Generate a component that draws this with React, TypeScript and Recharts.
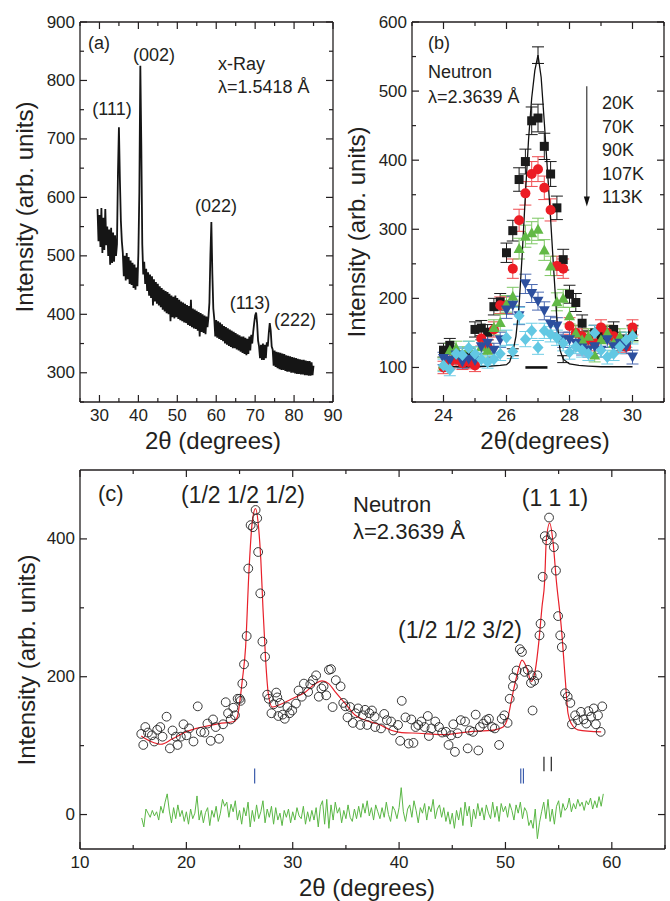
import React from "react";
import {
  ComposedChart,
  ErrorBar,
  Line,
  ReferenceDot,
  ReferenceLine,
  Scatter,
  XAxis,
  YAxis,
} from "recharts";

// ---------- (a) x-ray pattern: 29.5..85 deg, 0.25 deg steps ----------
const xrayStart = 29.5;
const xrayStep = 0.25;
const xrayCounts = [
  580, 525, 570, 515, 582, 505, 565, 510, 580, 518,
  550, 500, 545, 485, 548, 488, 540, 490, 535, 500,
  520, 640, 720, 630, 560, 525, 505, 465, 500, 458,
  505, 460, 498, 452, 492, 450, 488, 445, 485, 442,
  480, 448, 505, 610, 825, 690, 520, 468, 490, 452,
  478, 440, 472, 432, 468, 428, 465, 415, 460, 422,
  455, 418, 452, 415, 448, 412, 445, 408, 442, 405,
  440, 402, 438, 400, 435, 388, 432, 395, 430, 393,
  432, 395, 428, 392, 425, 390, 422, 388, 420, 386,
  418, 385, 416, 382, 414, 380, 425, 378, 410, 376,
  408, 375, 406, 372, 404, 362, 402, 370, 400, 368,
  398, 366, 396, 378, 395, 420, 500, 558, 470, 410,
  392, 362, 390, 360, 388, 358, 386, 356, 383, 354,
  380, 350, 378, 348, 376, 346, 374, 344, 372, 342,
  370, 342, 368, 340, 366, 338, 364, 336, 362, 334,
  362, 332, 360, 330, 358, 332, 362, 338, 365, 350,
  370, 385, 398, 403, 385, 355, 345, 325, 348, 322,
  350, 322, 348, 325, 352, 345, 368, 385, 372, 345,
  340, 312, 338, 310, 336, 308, 335, 306, 334, 305,
  333, 305, 332, 303, 330, 302, 329, 302, 328, 300,
  327, 300, 326, 299, 325, 298, 324, 298, 323, 297,
  322, 297, 322, 296, 321, 296, 320, 295, 320, 295,
  318, 296, 312,
];
const aTicksX = [25, 30, 35, 40, 45, 50, 55, 60, 65, 70, 75, 80, 85, 90];
const aMajorX = [30, 40, 50, 60, 70, 80, 90];
const aTicksY = [250, 300, 350, 400, 450, 500, 550, 600, 650, 700, 750, 800, 850, 900];
const aMajorY = [300, 400, 500, 600, 700, 800, 900];

// ---------- (b) neutron (1/2 1/2 1/2) peak vs temperature ----------
const nAngles = [
  24.0, 24.2, 24.4, 24.6, 24.8, 25.0, 25.2, 25.4, 25.6, 25.8, 26.0,
  26.2, 26.4, 26.6, 26.8, 27.0, 27.2, 27.4, 27.6, 27.8, 28.0,
  28.2, 28.4, 28.6, 28.8, 29.0, 29.2, 29.4, 29.6, 29.8, 30.0,
];
const counts20K = [125, 132, 114, 110, 118, 155, 157, 151, 188, 195, 266, 298, 372, 398, 457, 461, 420, 380, 331, 256, 206, 194, 164, 142, 150, 146, 148, 155, 140, 136, 150];
const err20K = [10, 10, 9, 9, 10, 11, 11, 11, 12, 12, 14, 15, 17, 18, 20, 20, 19, 18, 17, 15, 13, 13, 12, 11, 11, 11, 11, 11, 11, 11, 11];
const counts70K = [100, 108, 112, 106, 108, 103, 142, 130, 155, 190, 190, 243, 313, 352, 380, 387, 360, 328, 247, 243, 160, 150, 145, 140, 135, 158, 150, 145, 132, 130, 158];
const err70K = [9, 10, 10, 9, 10, 9, 11, 10, 11, 12, 12, 14, 16, 17, 18, 18, 17, 16, 14, 14, 12, 11, 11, 11, 11, 11, 11, 11, 10, 10, 11];
const counts90K = [105, 125, 128, 120, 128, 120, 130, 125, 158, 165, 192, 203, 272, 290, 295, 300, 270, 247, 195, 200, 175, 150, 140, 145, 118, 140, 150, 135, 145, 140, 148];
const err90K = [9, 10, 10, 10, 10, 10, 10, 10, 11, 12, 12, 13, 15, 16, 16, 16, 15, 14, 13, 13, 12, 11, 11, 11, 10, 11, 11, 11, 11, 11, 11];
const counts107K = [113, 110, 118, 108, 112, 110, 130, 135, 125, 140, 183, 190, 175, 221, 207, 196, 182, 162, 160, 140, 140, 135, 128, 125, 130, 125, 140, 130, 135, 130, 115];
const err107K = [9, 9, 10, 9, 10, 9, 10, 11, 10, 11, 12, 13, 13, 14, 13, 13, 13, 12, 12, 11, 11, 11, 10, 10, 10, 10, 11, 10, 11, 10, 10];
const counts113K = [103, 97, 120, 118, 128, 120, 112, 108, 112, 120, 143, 123, 175, 141, 153, 129, 153, 148, 143, 135, 122, 130, 125, 120, 150, 125, 115, 120, 130, 140, 145];
const err113K = [9, 9, 10, 10, 10, 10, 9, 9, 9, 10, 11, 10, 12, 11, 11, 10, 11, 11, 11, 11, 10, 10, 10, 10, 11, 10, 10, 10, 10, 11, 11];
const temps = ["20K", "70K", "90K", "107K", "113K"];

const fitAngles = [24.0, 24.5, 25.0, 25.5, 25.8, 26.0, 26.1, 26.2, 26.3, 26.4, 26.5, 26.6, 26.7, 26.8, 26.9, 27.0, 27.1, 27.2, 27.3, 27.4, 27.5, 27.6, 27.7, 27.8, 28.0, 28.3, 28.6, 29.0, 29.5, 30.0];
const fitCounts = [101, 101, 101, 102, 103, 104, 108, 122, 145, 190, 265, 350, 430, 490, 530, 552, 520, 455, 385, 315, 240, 170, 125, 112, 105, 103, 102, 101, 101, 101];
const fitErrAngles = [26.2, 27.0, 27.8];
const fitErrCounts = [122, 552, 112];
const fitErrs = [5, 12, 5];

const bTicksX = [23, 24, 25, 26, 27, 28, 29, 30, 31];
const bMajorX = [24, 26, 28, 30];
const bTicksY = [50, 100, 150, 200, 250, 300, 350, 400, 450, 500, 550, 600];
const bMajorY = [100, 200, 300, 400, 500, 600];

// ---------- (c) full neutron pattern ----------
const cAngles = [
  15.76, 15.95, 16.14, 16.39, 16.76, 16.98, 17.26, 17.55, 17.76, 18.14,
  18.45, 18.7, 19.01, 19.17, 19.48, 19.73, 20.01, 20.26, 20.67, 21.07,
  21.36, 21.7, 21.98, 22.29, 22.51, 22.76, 23.07, 23.45, 23.7, 23.92,
  24.17, 24.42, 24.57, 24.82, 25.01, 25.1, 25.26, 25.42, 25.67, 25.82,
  26.04, 26.26, 26.51, 26.66, 26.75, 26.95, 27.15, 27.4, 27.6, 27.75,
  28.0, 28.2, 28.45, 28.55, 28.65, 28.8, 29.05, 29.25, 29.5, 29.7,
  29.95, 30.3, 30.55, 30.85, 31.05, 31.45, 31.65, 31.9, 32.2, 32.45,
  32.7, 32.9, 33.15, 33.4, 33.6, 33.75, 34.05, 34.5, 34.75, 34.95,
  35.15, 35.4, 35.65, 35.9, 36.15, 36.35, 36.6, 36.8, 37.0, 37.2,
  37.45, 37.7, 37.75, 38.3, 38.6, 38.85, 39.25, 39.45, 39.9, 40.1,
  40.25, 40.6, 40.9, 41.15, 41.35, 41.55, 41.8, 42.1, 42.4, 42.7,
  42.8, 43.05, 43.4, 43.75, 44.05, 44.4, 44.65, 44.9, 45.1, 45.25,
  45.5, 45.8, 46.2, 46.45, 46.65, 46.95, 47.2, 47.45, 47.6, 47.9,
  48.2, 48.45, 48.75, 49.0, 49.4, 49.65, 49.9, 50.2, 50.4, 50.7,
  50.75, 51.05, 51.35, 51.55, 51.8, 52.1, 52.4, 52.45, 52.55, 52.7,
  53.0, 53.2, 53.3, 53.5, 53.7, 53.9, 54.1, 54.35, 54.55, 54.75,
  54.95, 55.15, 55.3, 55.6, 55.85, 56.1, 56.25, 56.55, 56.8, 57.1,
  57.35, 57.6, 57.8, 58.05, 58.3, 58.5, 58.7, 58.95, 59.1,
];
const cCounts = [
  117, 101, 127, 119, 115, 106, 123, 127, 113, 142,
  96, 122, 113, 101, 113, 131, 115, 125, 106, 157,
  120, 119, 132, 107, 138, 127, 110, 131, 163, 147,
  138, 155, 144, 168, 168, 165, 190, 218, 259, 357,
  420, 417, 442, 430, 381, 321, 251, 229, 174, 168,
  147, 160, 177, 170, 143, 162, 145, 139, 156, 147,
  151, 161, 180, 171, 190, 178, 189, 195, 202, 171,
  183, 186, 173, 210, 211, 156, 195, 186, 162, 157,
  141, 156, 133, 147, 154, 130, 144, 152, 130, 147,
  151, 142, 127, 125, 146, 137, 135, 122, 130, 107,
  165, 141, 103, 138, 104, 127, 130, 135, 127, 143,
  114, 125, 135, 127, 119, 120, 101, 115, 131, 91,
  118, 137, 135, 96, 122, 120, 145, 93, 127, 132,
  137, 139, 127, 125, 101, 139, 144, 133, 168, 186,
  199, 209, 240, 236, 207, 210, 191, 202, 151, 194,
  202, 260, 277, 345, 404, 398, 431, 406, 388, 354,
  288, 260, 243, 176, 171, 162, 131, 144, 137, 149,
  138, 132, 150, 142, 154, 131, 144, 120, 157,
];
const calcAngles = [
  15.76, 16.67, 17.6, 18.7, 19.95, 21.5, 23.07, 24.48, 24.8, 25.0,
  25.26, 25.57, 25.89, 26.2, 26.5, 26.8, 27.0, 27.2, 27.45, 27.7,
  28.07, 28.7, 29.95, 31.2, 32.13, 32.76, 33.38, 34.0, 34.95, 35.88,
  36.82, 38.07, 39.32, 40.25, 41.82, 44.0, 46.5, 49.0, 49.78, 50.25,
  50.63, 51.13, 51.56, 51.97, 52.44, 52.81, 53.12, 53.44, 53.69, 53.84,
  54.16, 54.47, 54.78, 55.25, 55.63, 55.88, 56.19, 56.81, 59.0,
];
const calcCounts = [
  114, 106, 102, 110, 120, 127, 132, 135, 142, 161,
  195, 243, 355, 425, 444, 415, 370, 300, 225, 176,
  156, 159, 168, 178, 190, 194, 190, 178, 161, 144,
  137, 131, 122, 119, 118, 116, 120, 123, 127, 142,
  171, 205, 224, 214, 193, 210, 248, 302, 340, 398,
  423, 396, 340, 272, 195, 147, 132, 123, 120,
];
// obs - calc, 15.8..59.2 deg in 0.2 deg steps
const diffStart = 15.8;
const diffStep = 0.2;
const diffCounts = [
  -5, -18, 8, 2, -4, 6, -2, 4, -8, 12,
  2, 18, 30, 5, -12, 10, -6, 14, -3, 6,
  -10, 4, -14, 8, -6, 2, 27, -8, 6, -12,
  3, 10, -16, 6, -4, 12, -10, 2, 22, 12,
  18, -4, 15, 4, 20, -8, 6, -14, 10, -2,
  18, -18, 6, -10, 14, -6, 4, 20, -12, 8,
  -4, 12, -14, 10, -8, 2, -16, 6, -4, 8,
  -12, 4, -8, 10, -2, -6, 12, -14, 4, -10,
  6, -8, 10, -18, 12, 20, -14, 22, -20, 14,
  -8, 18, 2, 10, -12, 6, -6, 14, -4, -10,
  8, -6, 12, -4, 16, 2, 20, -2, 10, -8,
  14, 4, -6, 10, -4, 18, 0, -10, 12, 6,
  -6, 10, 39, 4, -10, 8, 14, -4, 20, 6,
  -12, 10, 2, 16, -8, 12, 4, 22, -6, 8,
  14, -4, 10, -10, 4, -14, 2, -20, 6, -8,
  10, -16, 18, -2, 12, -18, 8, -6, 16, -2,
  10, -8, 14, 2, -6, 18, -4, 12, -10, 16,
  4, 12, -4, 16, 6, -8, 14, 2, 18, -6,
  10, 4, -16, -8, -20, 8, -35, -12, 4, 18,
  -6, 22, -10, 8, -14, 12, 20, -4, 16, 6,
  10, 24, 4, 16, 8, 22, 12, 18, 6, 20,
  14, 24, 8, 20, 10, 26, 12, 30,
];
const magneticTicks = [26.42, 51.44, 51.69];
const nuclearTicks = [53.62, 54.31];

const cTicksX = [10, 15, 20, 25, 30, 35, 40, 45, 50, 55, 60, 65];
const cMajorX = [10, 20, 30, 40, 50, 60];
const cTicksY = [0, 100, 200, 300, 400];
const cMajorY = [0, 200, 400];

// ---------- shared bits ----------
const FONT = '"Liberation Sans", Arial, Helvetica, sans-serif';
const INK = "#231f20";
const TICK_GAP = 10;
const frame = { stroke: INK, strokeWidth: 1.3 };

const xray = xrayCounts.map((y, i) => ({ x: xrayStart + i * xrayStep, y }));
const series = (ys: number[], es: number[]) => nAngles.map((x, i) => ({ x, y: ys[i], e: es[i] }));
const fitB = fitAngles.map((x, i) => ({ x, y: fitCounts[i] }));
const fitBErr = fitErrAngles.map((x, i) => ({ x, y: fitErrCounts[i], e: fitErrs[i] }));
const obsC = cAngles.map((x, i) => ({ x, y: cCounts[i] }));
const calcC = calcAngles.map((x, i) => ({ x, y: calcCounts[i] }));
const diffC = diffCounts.map((y, i) => ({ x: diffStart + i * diffStep, y }));

type Side = "bottom" | "top" | "left" | "right";

function makeTick(side: Side, majors: number[]) {
  return (props: any) => {
    const { x, y, payload } = props;
    const v: number = payload.value;
    const major = majors.indexOf(v) >= 0;
    const len = major ? 7 : 4;
    const txt = { fontSize: 17, fontFamily: FONT, fill: INK };
    if (side === "bottom") {
      const ay = y - TICK_GAP;
      return (
        <g>
          <line x1={x} x2={x} y1={ay} y2={ay - len} stroke={INK} strokeWidth={1.2} />
          {major && (
            <text x={x} y={ay + 13} textAnchor="middle" dominantBaseline="central" {...txt}>
              {v}
            </text>
          )}
        </g>
      );
    }
    if (side === "top") {
      const ay = y + TICK_GAP;
      return <line x1={x} x2={x} y1={ay} y2={ay + len} stroke={INK} strokeWidth={1.2} />;
    }
    if (side === "left") {
      const ax = x + TICK_GAP;
      return (
        <g>
          <line x1={ax} x2={ax + len} y1={y} y2={y} stroke={INK} strokeWidth={1.2} />
          {major && (
            <text x={ax - 5} y={y} textAnchor="end" dominantBaseline="central" {...txt}>
              {v}
            </text>
          )}
        </g>
      );
    }
    const ax = x - TICK_GAP;
    return <line x1={ax} x2={ax - len} y1={y} y2={y} stroke={INK} strokeWidth={1.2} />;
  };
}

// four framed axes with inward ticks
function frameAxes(
  xDomain: [number, number],
  yDomain: [number, number],
  xt: number[],
  xm: number[],
  yt: number[],
  ym: number[],
  bottomH: number,
  leftW: number
) {
  const common = {
    type: "number" as const,
    allowDataOverflow: true,
    interval: 0 as const,
    tickSize: 0,
    tickMargin: TICK_GAP,
    tickLine: false,
    axisLine: frame,
  };
  return [
    <XAxis key="xb" xAxisId={0} dataKey="x" domain={xDomain} ticks={xt} tick={makeTick("bottom", xm)} height={bottomH} {...common} />,
    <XAxis key="xt" xAxisId="t" orientation="top" dataKey="x" domain={xDomain} ticks={xt} tick={makeTick("top", xm)} height={1} {...common} />,
    <YAxis key="yl" yAxisId={0} domain={yDomain} ticks={yt} tick={makeTick("left", ym)} width={leftW} {...common} />,
    <YAxis key="yr" yAxisId="r" orientation="right" domain={yDomain} ticks={yt} tick={makeTick("right", ym)} width={1} {...common} />,
  ];
}

const square = (c: string) => (p: any) => <rect x={p.cx - 4.5} y={p.cy - 4.5} width={9} height={9} fill={c} />;
const dot = (c: string) => (p: any) => <circle cx={p.cx} cy={p.cy} r={5} fill={c} />;
const triUp = (c: string) => (p: any) => (
  <polygon points={`${p.cx - 5.5},${p.cy + 4.5} ${p.cx + 5.5},${p.cy + 4.5} ${p.cx},${p.cy - 5.5}`} fill={c} />
);
const triDown = (c: string) => (p: any) => (
  <polygon points={`${p.cx - 5.5},${p.cy - 4.5} ${p.cx + 5.5},${p.cy - 4.5} ${p.cx},${p.cy + 5.5}`} fill={c} />
);
const diamond = (c: string) => (p: any) => (
  <polygon points={`${p.cx},${p.cy - 6} ${p.cx + 5.5},${p.cy} ${p.cx},${p.cy + 6} ${p.cx - 5.5},${p.cy}`} fill={c} />
);

function PanelA() {
  return (
    <ComposedChart width={345} height={450} margin={{ top: 21, right: 11, bottom: 0, left: 0 }}>
      {frameAxes([25, 90], [250, 900], aTicksX, aMajorX, aTicksY, aMajorY, 48, 80)}
      <Line
        data={xray}
        dataKey="y"
        stroke="#151515"
        strokeWidth={1.8}
        strokeLinejoin="miter"
        dot={false}
        isAnimationActive={false}
      />
    </ComposedChart>
  );
}

const bSeries = [
  { name: temps[0], data: series(counts20K, err20K), shape: square("#1b1b1b"), err: "#1b1b1b" },
  { name: temps[1], data: series(counts70K, err70K), shape: dot("#ec1c24"), err: "#ef4a4f" },
  { name: temps[2], data: series(counts90K, err90K), shape: triUp("#62b946"), err: "#7cc763" },
  { name: temps[3], data: series(counts107K, err107K), shape: triDown("#2c4f9e"), err: "#4a69b0" },
  { name: temps[4], data: series(counts113K, err113K), shape: diamond("#62c8e3"), err: "#6fcde6" },
];

function PanelB() {
  return (
    <ComposedChart width={335} height={450} margin={{ top: 21, right: 5, bottom: 0, left: 0 }}>
      {frameAxes([23, 31], [50, 600], bTicksX, bMajorX, bTicksY, bMajorY, 48, 77)}
      {bSeries.map((s) => (
        <Scatter key={s.name} name={s.name} data={s.data} dataKey="y" shape={s.shape} isAnimationActive={false}>
          <ErrorBar dataKey="e" direction="y" width={6} stroke={s.err} strokeWidth={1} />
        </Scatter>
      ))}
      <Line data={fitB} dataKey="y" stroke="#111" strokeWidth={1.3} dot={false} isAnimationActive={false} />
      <Scatter data={fitBErr} dataKey="y" shape={() => <g />} isAnimationActive={false}>
        <ErrorBar dataKey="e" direction="y" width={6} stroke="#111" strokeWidth={1} />
      </Scatter>
      <ReferenceLine segment={[{ x: 26.6, y: 100 }, { x: 27.3, y: 100 }]} stroke="#111" strokeWidth={2.6} />
      <ReferenceLine segment={[{ x: 28.55, y: 507 }, { x: 28.55, y: 345 }]} stroke="#111" strokeWidth={1} />
      <ReferenceDot
        x={28.55}
        y={333}
        shape={(p: any) => (
          <polygon points={`${p.cx - 3},${p.cy - 10} ${p.cx + 3},${p.cy - 10} ${p.cx},${p.cy}`} fill="#111" />
        )}
      />
    </ComposedChart>
  );
}

function PanelC() {
  return (
    <ComposedChart width={670} height={451} margin={{ top: 19, right: 4, bottom: 0, left: 0 }}>
      {frameAxes([10, 65], [-50, 500], cTicksX, cMajorX, cTicksY, cMajorY, 52, 80)}
      <Scatter
        data={obsC}
        dataKey="y"
        shape={(p: any) => <circle cx={p.cx} cy={p.cy} r={4.4} fill="none" stroke="#222" strokeWidth={0.9} />}
        isAnimationActive={false}
      />
      <Line data={calcC} dataKey="y" type="monotone" stroke="#e8202a" strokeWidth={1.2} dot={false} isAnimationActive={false} />
      <Line data={diffC} dataKey="y" stroke="#5ab745" strokeWidth={1} dot={false} isAnimationActive={false} />
      {magneticTicks.map((t) => (
        <ReferenceLine key={`m${t}`} segment={[{ x: t, y: 45 }, { x: t, y: 67 }]} stroke="#3a5bab" strokeWidth={1.2} />
      ))}
      {nuclearTicks.map((t) => (
        <ReferenceLine key={`n${t}`} segment={[{ x: t, y: 63 }, { x: t, y: 84 }]} stroke="#222" strokeWidth={1.2} />
      ))}
    </ComposedChart>
  );
}

function Note({
  x,
  y,
  size,
  text,
  center = false,
  rotate = false,
}: {
  x: number;
  y: number;
  size: number;
  text: string;
  center?: boolean;
  rotate?: boolean;
}) {
  const tx = center || rotate ? "-50%" : "0";
  return (
    <div
      style={{
        position: "absolute",
        left: x,
        top: y,
        fontSize: size,
        lineHeight: 1,
        whiteSpace: "nowrap",
        transform: `translate(${tx}, -50%)${rotate ? " rotate(-90deg)" : ""}`,
      }}
    >
      {text}
    </div>
  );
}

const notes = [
  { text: "(a)", x: 88, y: 43, size: 18 },
  { text: "(111)", x: 112, y: 109, size: 18, center: true },
  { text: "(002)", x: 154, y: 55, size: 18, center: true },
  { text: "x-Ray", x: 218, y: 64, size: 18 },
  { text: "λ=1.5418 Å", x: 218, y: 87, size: 18 },
  { text: "(022)", x: 216, y: 206, size: 18, center: true },
  { text: "(113)", x: 250, y: 303, size: 18, center: true },
  { text: "(222)", x: 295, y: 320, size: 18, center: true },
  { text: "Intensity (arb. units)", x: 25, y: 207, size: 24, rotate: true },
  { text: "2θ (degrees)", x: 213, y: 441, size: 24, center: true },
  { text: "(b)", x: 428, y: 43, size: 18 },
  { text: "Neutron", x: 428, y: 72, size: 18 },
  { text: "λ=2.3639 Å", x: 428, y: 97, size: 18 },
  { text: "Intensity (arb. units)", x: 357, y: 232, size: 24, rotate: true },
  { text: "2θ(degrees)", x: 545, y: 441, size: 24, center: true },
  { text: "(c)", x: 98, y: 494, size: 22 },
  { text: "(1/2 1/2 1/2)", x: 243, y: 495, size: 23, center: true },
  { text: "Neutron", x: 353, y: 505, size: 22 },
  { text: "λ=2.3639 Å", x: 353, y: 532, size: 22 },
  { text: "(1 1 1)", x: 555, y: 498, size: 23, center: true },
  { text: "(1/2 1/2 3/2)", x: 460, y: 630, size: 23, center: true },
  { text: "Intensity (arb. units)", x: 27, y: 660, size: 24, rotate: true },
  { text: "2θ (degrees)", x: 367, y: 888, size: 24, center: true },
];

const tempRows = [103, 126.5, 150, 173.5, 197];

export default function App() {
  return (
    <div
      style={{
        position: "absolute",
        left: 0,
        top: 0,
        width: 670,
        height: 901,
        background: "#fff",
        fontFamily: FONT,
        color: INK,
        overflow: "hidden",
      }}
    >
      <div style={{ position: "absolute", left: 0, top: 0 }}>
        <PanelA />
      </div>
      <div style={{ position: "absolute", left: 335, top: 0 }}>
        <PanelB />
      </div>
      <div style={{ position: "absolute", left: 0, top: 450 }}>
        <PanelC />
      </div>
      {notes.map((n, i) => (
        <Note key={i} {...n} />
      ))}
      {temps.map((t, i) => (
        <Note key={t} text={t} x={602} y={tempRows[i]} size={18} />
      ))}
    </div>
  );
}
